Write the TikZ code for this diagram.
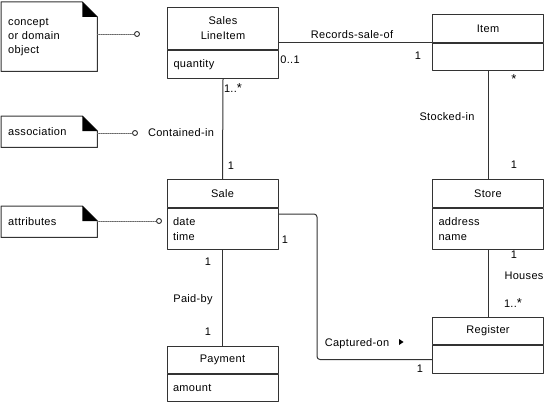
\documentclass[tikz,border=0pt]{standalone}
\usepackage{fontspec}
\setmainfont{Liberation Sans}[LetterSpace=3]
\usetikzlibrary{positioning}

\newcommand{\hvezda}{{\fontsize{13}{15}\selectfont *}}

\begin{document}
\begin{tikzpicture}[x=1pt,y=-1pt,line join=round,line cap=round,
    every node/.style={font=\fontsize{11}{15}\selectfont},
    trida/.style={draw=black!80, line width=1pt, minimum width=111pt, inner sep=0pt},
    hlava/.style={trida, minimum height=#1, align=center},
    atributy/.style={trida, minimum height=#1, inner xsep=6pt, text width=99pt, align=left},
    poznamka/.style={minimum width=96pt, minimum height=#1, inner xsep=7pt, text width=82pt,
        align=left, font=\fontsize{11}{14}\selectfont},
    spoj/.style={draw=black!80, line width=1pt},
    tecky/.style={draw=black!60, densely dotted, line width=0.8pt},
    kolecko/.style={circle, draw=black!80, line width=0.9pt, minimum size=5pt, inner sep=0pt}]
    \useasboundingbox (0,0) rectangle (556,401);

    % poznamky vlevo
    \node[poznamka=69pt, anchor=north west] (pojem) at (1,2) {concept\\or domain\\object};
    \node[poznamka=31pt, anchor=north west] (asoc) at (1,116) {association};
    \node[poznamka=31pt, anchor=north west] (atr) at (1,206) {attributes};

    \foreach \n in {pojem,asoc,atr} {
        \draw[draw=black!80, line width=1pt]
            (\n.north west) -- ([xshift=-15pt]\n.north east) -- ([yshift=-15pt]\n.north east)
            -- (\n.south east) -- (\n.south west) -- cycle;
        \fill ([xshift=-15pt]\n.north east) -- ([yshift=-15pt]\n.north east)
            -- ([xshift=-15pt,yshift=-15pt]\n.north east) -- cycle;
    }

    % kolecka a teckovane cary k nim
    \node[kolecko] (k1) at (137,34) {};
    \node[kolecko] (k2) at (135,133) {};
    \node[kolecko] (k3) at (159,221) {};
    \draw[tecky] (k1 -| pojem.east) -- (k1.west);
    \draw[tecky] (k2 -| asoc.east) -- (k2.west);
    \draw[tecky] (k3 -| atr.east) -- (k3.west);

    % tridy
    \node[hlava=42pt, anchor=north west] (sli) at (167,7) {Sales\\LineItem};
    \node[atributy=28pt, anchor=north] (sli-a) at (sli.south) {quantity};

    \node[hlava=28pt, anchor=north west] (item) at (432,14) {Item};
    \node[atributy=27pt, anchor=north] (item-a) at (item.south) {};

    \node[hlava=28pt, anchor=north west] (sale) at (166.5,179) {Sale};
    \node[atributy=41pt, anchor=north] (sale-a) at (sale.south) {date\\time};

    \node[hlava=28pt, anchor=north west] (store) at (432,179) {Store};
    \node[atributy=41pt, anchor=north] (store-a) at (store.south) {address\\name};

    \node[hlava=27pt, anchor=north west] (register) at (432,317) {Register};
    \node[atributy=28pt, anchor=north] (register-a) at (register.south) {};

    \node[hlava=27pt, anchor=north west] (payment) at (166.5,346) {Payment};
    \node[atributy=26.5pt, anchor=north] (payment-a) at (payment.south) {amount};

    % asociace
    \draw[spoj] (sli.east |- item.south) -- (item.south west);
    \draw[spoj] (sli-a.south) -- (sale.north);
    \draw[spoj] (item-a.south) -- (store.north);
    \draw[spoj] (store-a.south) -- (register.north);
    \draw[spoj] (sale-a.south) -- (payment.north);
    \coordinate (zlom) at (317,214);
    \draw[spoj, rounded corners=3pt] (zlom -| sale-a.east) -- (zlom) |- (register-a.west);

    % popisky asociaci a nasobnosti
    \node (records) at (352,35) {Records-sale-of};
    \node (m1) at (290,60) {0..1};
    \node (m2) at (418,56) {1};

    \node (contained) at (181,133) {Contained-in};
    \node (m3) at (233,88) {1..\hvezda};
    \node (m4) at (231,166) {1};

    \node (stocked) at (447,117) {Stocked-in};
    \node (m5) at (514,79) {\hvezda};
    \node (m6) at (514,165) {1};

    \node (paid) at (193,300) {Paid-by};
    \node (m7) at (208,262) {1};
    \node (m8) at (208,332) {1};

    \node (houses) at (524,276) {Houses};
    \node (m9) at (514,255) {1};
    \node (m10) at (513,303) {1..\hvezda};

    \node (captured) at (357,344) {Captured-on};
    \fill (399,339) -- (403.5,342) -- (399,345) -- cycle;
    \node (m11) at (285,240) {1};
    \node (m12) at (420,369) {1};
\end{tikzpicture}
\end{document}
